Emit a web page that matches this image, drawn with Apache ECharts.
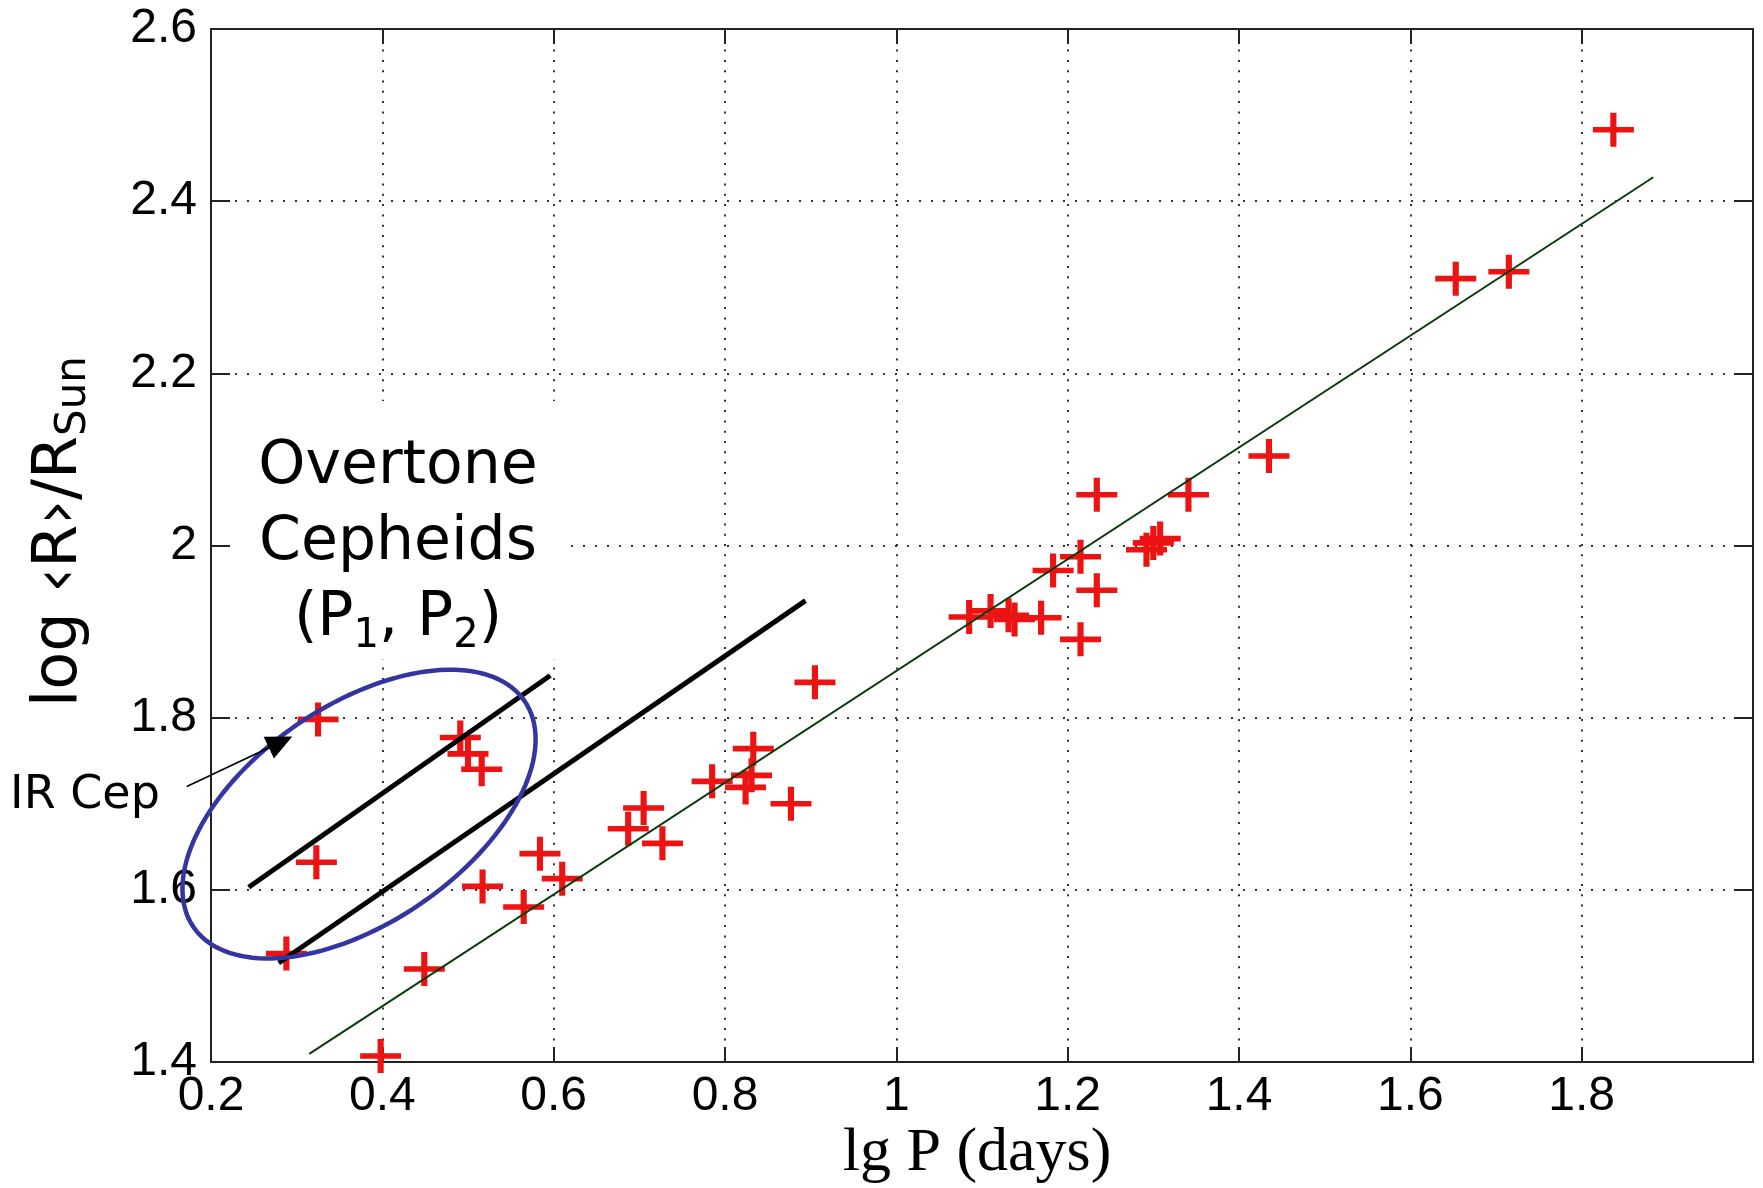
<!DOCTYPE html>
<html><head><meta charset="utf-8">
<script src="https://cdn.jsdelivr.net/npm/echarts@6/dist/echarts.min.js"></script>
<style>html,body{margin:0;padding:0;background:#fff}#c{width:1763px;height:1188px}</style>
</head><body><div id="c"></div>
<script>
// ---- data ----
const lgP = [0.288,0.323,0.325,0.398,0.449,0.491,0.500,0.516,0.517,0.565,0.584,0.610,0.687,0.705,0.727,0.785,0.824,0.831,0.833,0.877,0.905,1.085,1.110,1.131,1.138,1.169,1.183,1.215,1.234,1.215,1.234,1.292,1.300,1.308,1.341,1.435,1.653,1.715,1.837];
const logR = [1.526,1.632,1.798,1.407,1.508,1.777,1.758,1.740,1.604,1.580,1.642,1.613,1.671,1.695,1.654,1.726,1.719,1.733,1.764,1.700,1.841,1.917,1.924,1.919,1.914,1.916,1.971,1.987,1.948,1.891,2.059,1.995,2.003,2.008,2.059,2.104,2.310,2.318,2.483];
const xTickValues = [0.2,0.4,0.6,0.8,1.0,1.2,1.4,1.6,1.8];
const yTickValues = [1.4,1.6,1.8,2.0,2.2,2.4,2.6];
const fitLine = [[0.3147,1.4095],[1.8836,2.4278]];
const overtoneLineA = [[0.244,1.603],[0.596,1.849]];
const overtoneLineB = [[0.279,1.515],[0.894,1.936]];
const irCepArrow = [[0.1717,1.720],[0.2949,1.7781]];
const ellipseCenter = [0.3728,1.688];
const overtoneTextAt = [0.4183,2.018];
const irCepTextAt = [0.0529,1.709];

// ---- annotation geometry / styles ----
const ELLIPSE = {a:0.234, b:0.127, angle:34.3};
const ARROW_HEAD = {length:26, halfWidth:12};
const PLUS = 'path://M-1,-0.165L1,-0.165L1,0.165L-1,0.165Z M-0.15,-1L0.15,-1L0.15,1L-0.15,1Z';
const fmt = v => String(Math.round(v*10)/10);
const TEXTS = [
  {text:'Overtone\nCepheids\n(P{sub|1}, P{sub|2})', style:{
    fontFamily:'DejaVu Sans', fontSize:60, lineHeight:76, fill:'#000', align:'center', verticalAlign:'middle',
    backgroundColor:'#fff', padding:[28,26,2,26],
    rich:{sub:{fontFamily:'DejaVu Sans', fontSize:40, lineHeight:30, verticalAlign:'bottom', fill:'#000'}}}},
  {text:'IR Cep', style:{fontFamily:'DejaVu Sans', fontSize:46, fill:'#000', align:'center', verticalAlign:'middle'}}
];

const chart = echarts.init(document.getElementById('c'));
const axisLine = {show:true, lineStyle:{color:'#222', width:2}};
chart.setOption({
  backgroundColor:'#fff',
  animation:false,
  grid:{left:211, right:10, top:29, bottom:126, containLabel:false, outerBoundsMode:'none'},
  xAxis:[{
    type:'value', min:0.2, max:2.0, interval:0.2, position:'bottom',
    axisLine, axisTick:{show:true, inside:true, length:15, lineStyle:{color:'#222', width:2}},
    axisLabel:{fontFamily:'Liberation Sans', fontSize:48, lineHeight:40, color:'#000', margin:15, showMinLabel:true, showMaxLabel:false,
      formatter:v => xTickValues.some(t=>Math.abs(t-v)<1e-6) ? fmt(v) : ''},
    splitLine:{show:true, lineStyle:{type:[2,8.3], color:'#333', width:2}},
    name:'lg P (days)', nameLocation:'middle', nameGap:61, nameMoveOverlap:false,
    nameTextStyle:{fontFamily:'Liberation Serif', fontSize:62, lineHeight:62, color:'#000', padding:[0,10,0,0]}
  },{
    type:'value', min:0.2, max:2.0, interval:0.2, position:'top',
    axisLine, axisTick:{show:true, inside:true, length:15, lineStyle:{color:'#222', width:2}},
    axisLabel:{show:false}, splitLine:{show:false}
  }],
  yAxis:[{
    type:'value', min:1.4, max:2.6, interval:0.2, position:'left',
    axisLine, axisTick:{show:true, inside:true, length:19, lineStyle:{color:'#222', width:2}},
    axisLabel:{fontFamily:'Liberation Sans', fontSize:48, color:'#000', margin:14, showMinLabel:true, showMaxLabel:true,
      formatter:v => yTickValues.some(t=>Math.abs(t-v)<1e-6) ? fmt(v) : ''},
    splitLine:{show:true, lineStyle:{type:[2,10], color:'#333', width:2}},
    name:'{m|log \u2039R\u203a/R}{sub|Sun}', nameLocation:'middle', nameRotate:90, nameGap:116,
    nameTextStyle:{padding:[0,0,0,28], rich:{
      m:{fontFamily:'DejaVu Sans', fontSize:62, lineHeight:70, color:'#000'},
      sub:{fontFamily:'DejaVu Sans', fontSize:42, lineHeight:30, verticalAlign:'bottom', color:'#000'}
    }}
  },{
    type:'value', min:1.4, max:2.6, interval:0.2, position:'right',
    axisLine, axisTick:{show:true, inside:true, length:19, lineStyle:{color:'#222', width:2}},
    axisLabel:{show:false}, splitLine:{show:false}
  }],
  series:[
    {
      type:'scatter', name:'Cepheids', clip:false, z:2,
      symbol:PLUS, symbolSize:[41,34],
      itemStyle:{color:'#ec1313', opacity:1},
      data:lgP.map((x,i)=>[x, logR[i]])
    },
    {
      type:'lines', name:'fit', coordinateSystem:'cartesian2d', clip:false, z:3,
      lineStyle:{color:'#0b3b0b', width:2, opacity:1}, symbol:['none','none'],
      data:[{coords:fitLine}]
    },
    {
      type:'lines', name:'overtone P-R', coordinateSystem:'cartesian2d', clip:false, z:4,
      lineStyle:{color:'#000', width:5, opacity:1}, symbol:['none','none'],
      data:[{coords:overtoneLineA},{coords:overtoneLineB}]
    },
    {
      type:'custom', name:'annotations', coordinateSystem:'cartesian2d', clip:false, z:6, silent:true,
      data:[overtoneTextAt, irCepTextAt],
      renderItem:(params, api) => {
        const p = api.coord([api.value(0), api.value(1)]);
        const t = TEXTS[params.dataIndex];
        return {type:'text', x:p[0], y:p[1], style:Object.assign({text:t.text}, t.style)};
      }
    },
    {
      type:'custom', name:'overtone region', coordinateSystem:'cartesian2d', clip:false, z:8,
      data:[ellipseCenter],
      renderItem:(params, api) => {
        const c = api.coord([api.value(0), api.value(1)]);
        const u = api.size([1,1]);
        const a = ELLIPSE.a*u[0], b = ELLIPSE.b*u[0];
        const th = ELLIPSE.angle*Math.PI/180;
        const pts = [];
        for (let i=0;i<=144;i++){
          const f = i/144*2*Math.PI;
          const ca = Math.cos(f)*a, sb = Math.sin(f)*b;
          pts.push([c[0] + ca*Math.cos(th) + sb*Math.sin(th), c[1] - ca*Math.sin(th) + sb*Math.cos(th)]);
        }
        return {type:'polygon', shape:{points:pts}, style:{fill:'none', stroke:'#3535a0', lineWidth:4.5}};
      }
    },
    {
      type:'custom', name:'IR Cep arrow', coordinateSystem:'cartesian2d', clip:false, z:9, silent:true,
      data:[[irCepArrow[0][0], irCepArrow[0][1], irCepArrow[1][0], irCepArrow[1][1]]],
      renderItem:(params, api) => {
        const p0 = api.coord([api.value(0), api.value(1)]);
        const p1 = api.coord([api.value(2), api.value(3)]);
        const dx = p1[0]-p0[0], dy = p1[1]-p0[1], L = Math.hypot(dx,dy);
        const ux = dx/L, uy = dy/L;
        const bx = p1[0]-ux*ARROW_HEAD.length, by = p1[1]-uy*ARROW_HEAD.length;
        const w = ARROW_HEAD.halfWidth;
        return {type:'group', children:[
          {type:'line', shape:{x1:p0[0], y1:p0[1], x2:bx, y2:by}, style:{stroke:'#000', lineWidth:1.6}},
          {type:'polygon', shape:{points:[[p1[0],p1[1]],[bx-uy*w, by+ux*w],[bx+uy*w, by-ux*w]]}, style:{fill:'#000'}}
        ]};
      }
    }
  ]
});
</script></body></html>
